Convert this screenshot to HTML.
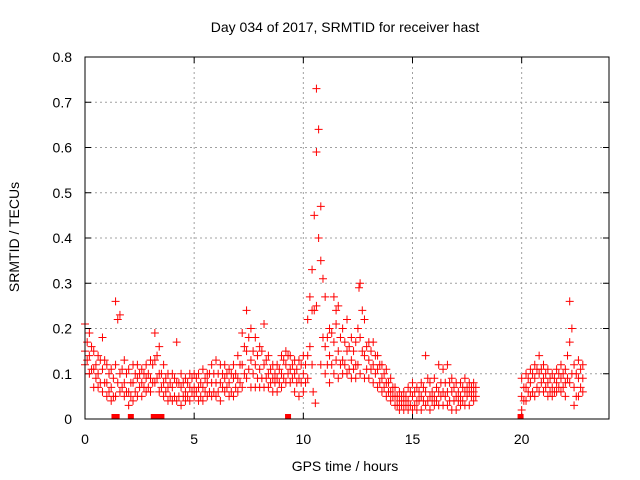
<!DOCTYPE html>
<html><head><meta charset="utf-8"><style>
body{margin:0;background:#fff;}
svg{display:block;font-family:"Liberation Sans",sans-serif;}
</style></head><body>
<svg id="chart" width="640" height="480" xmlns="http://www.w3.org/2000/svg">
<text x="345" y="32" font-size="14" text-anchor="middle">Day 034 of 2017, SRMTID for receiver hast</text>
<text x="345" y="471" font-size="14" text-anchor="middle">GPS time / hours</text>
<text transform="translate(19,237) rotate(-90)" font-size="14" text-anchor="middle">SRMTID / TECUs</text>
<g id="grid"></g><g id="ticks"></g><g id="marks"></g>
<rect x="85" y="57" width="524" height="362" fill="none" stroke="#000" stroke-width="1"/>
</svg>
<script>
const times = [0,0.2,0.4,0.6,0.8,1.0,1.2,1.4,1.6,1.8,2.0,2.2,2.4,2.6,2.8,3.0,3.2,3.4,3.6,3.8,4.0,4.2,4.4,4.6,4.8,5.0,5.2,5.4,5.6,5.8,6.0,6.2,6.4,6.6,6.8,7.0,7.2,7.4,7.6,7.8,8.0,8.2,8.4,8.6,8.8,9.0,9.2,9.4,9.6,9.8,10.0,10.2,10.4,10.6,10.8,11.0,11.2,11.4,11.6,11.8,12.0,12.2,12.4,12.6,12.8,13.0,13.2,13.4,13.6,13.8,14.0,14.2,14.4,14.6,14.8,15.0,15.2,15.4,15.6,15.8,16.0,16.2,16.4,16.6,16.8,17.0,17.2,17.4,17.6,17.8,18.0,18.2,18.4,18.6,18.8,19.0,19.2,19.4,19.6,19.8,20.0,20.2,20.4,20.6,20.8,21.0,21.2,21.4,21.6,21.8,22.0,22.2,22.4,22.6,22.8];
const hiVals = [.21,.19,.15,.14,.18,.12,.11,.26,.23,.13,.11,.12,.12,.11,.12,.13,.19,.16,.12,.10,.10,.17,.10,.09,.10,.10,.10,.11,.10,.12,.13,.12,.12,.11,.12,.14,.19,.24,.20,.18,.16,.21,.14,.12,.12,.14,.15,.14,.13,.13,.14,.22,.33,.73,.47,.27,.20,.27,.25,.20,.22,.18,.17,.30,.22,.17,.17,.14,.12,.11,.09,.07,.06,.06,.07,.08,.07,.08,.14,.08,.09,.12,.11,.12,.09,.08,.08,.09,.08,.08,null,null,null,null,null,null,null,null,null,null,.09,.10,.11,.12,.14,.12,.11,.10,.11,.12,.11,.26,.12,.13,.12];
const midVals = [.15,.14,.11,.10,.11,.08,.07,.12,.10,.08,.06,.08,.09,.08,.09,.09,.13,.10,.08,.07,.07,.08,.07,.06,.07,.07,.07,.07,.08,.08,.08,.08,.09,.08,.09,.09,.12,.15,.13,.12,.11,.12,.10,.09,.09,.10,.12,.11,.10,.09,.10,.14,.24,.59,.35,.16,.14,.17,.15,.13,.15,.13,.12,.18,.14,.13,.12,.11,.09,.08,.06,.05,.04,.04,.04,.05,.04,.05,.06,.05,.05,.06,.06,.06,.06,.05,.05,.06,.06,.06,null,null,null,null,null,null,null,null,null,null,.05,.07,.08,.09,.10,.09,.08,.07,.08,.09,.08,.17,.07,.09,.09];
const loVals = [.12,.10,.07,.07,.06,.05,.04,.05,.06,.05,.03,.04,.05,.05,.06,.06,.08,.06,.05,.04,.04,.04,.03,.04,.04,.05,.04,.04,.05,.05,.05,.04,.06,.05,.05,.06,.07,.09,.07,.07,.07,.07,.07,.06,.06,.07,.08,.08,.06,.05,.06,.09,.12,.25,.12,.10,.08,.10,.09,.10,.10,.09,.09,.10,.09,.09,.08,.07,.06,.05,.04,.03,.02,.02,.02,.02,.02,.02,.03,.02,.03,.03,.03,.03,.02,.02,.03,.03,.03,.04,null,null,null,null,null,null,null,null,null,null,.02,.04,.05,.05,.06,.06,.05,.05,.06,.06,.05,.08,.03,.05,.06];
const halfTimes = [0.1,0.3,0.5,0.7,0.9,1.1,1.3,1.5,1.7,1.9,2.1,2.3,2.5,2.7,2.9,3.1,3.3,3.5,3.7,3.9,4.1,4.3,4.5,4.7,4.9,5.1,5.3,5.5,5.7,5.9,6.1,6.3,6.5,6.7,6.9,7.1,7.3,7.5,7.7,7.9,8.1,8.3,8.5,8.7,8.9,9.1,9.3,9.5,9.7,9.9,10.1,10.3,10.5,10.7,10.9,11.1,11.3,11.5,11.7,11.9,12.1,12.3,12.5,12.7,12.9,13.1,13.3,13.5,13.7,13.9,14.1,14.3,14.5,14.7,14.9,15.1,15.3,15.5,15.7,15.9,16.1,16.3,16.5,16.7,16.9,17.1,17.3,17.5,17.7,17.9,18.1,18.3,18.5,18.7,18.9,19.1,19.3,19.5,19.7,19.9,20.1,20.3,20.5,20.7,20.9,21.1,21.3,21.5,21.7,21.9,22.1,22.3,22.5,22.7,22.9];
const upVals = [.17,.16,.12,.13,.13,.10,.09,.22,.11,.10,.08,.10,.10,.10,.10,.12,.14,.10,.09,.08,.09,.08,.08,.08,.09,.09,.08,.09,.10,.10,.10,.10,.10,.10,.10,.12,.16,.18,.15,.14,.15,.13,.11,.10,.11,.13,.14,.12,.11,.12,.12,.27,.45,.64,.31,.18,.19,.21,.18,.17,.16,.15,.20,.24,.16,.15,.14,.12,.10,.08,.07,.05,.05,.05,.06,.06,.06,.07,.09,.06,.07,.08,.08,.08,.07,.06,.07,.07,.07,.07,null,null,null,null,null,null,null,null,null,null,.07,.09,.10,.11,.11,.10,.09,.09,.10,.10,.14,.20,.10,.11,null];
const downVals = [.13,.11,.09,.08,.08,.06,.05,.08,.07,.06,.05,.06,.07,.07,.07,.08,.09,.07,.06,.05,.05,.05,.05,.05,.06,.06,.05,.06,.06,.06,.06,.07,.07,.06,.07,.08,.10,.11,.10,.09,.09,.09,.08,.08,.08,.09,.10,.09,.08,.08,.08,.16,.24,.40,.18,.12,.12,.13,.12,.12,.11,.11,.12,.15,.11,.11,.10,.08,.07,.06,.05,.03,.03,.03,.03,.03,.04,.04,.04,.04,.04,.05,.05,.04,.04,.04,.04,.05,.05,.05,null,null,null,null,null,null,null,null,null,null,.04,.06,.06,.07,.08,.07,.06,.06,.07,.07,.09,.10,.05,.07,null];
const outlierTimes = [10.55,10.45,11.5,12.55];
const outlierVals = [0.035,0.06,0.24,0.29];
const zeroTimes = [1.35,1.45,2.1,3.15,3.25,3.5,9.3,19.95];
const xTicks = [0,5,10,15,20];
const yTicks = [0,0.1,0.2,0.3,0.4,0.5,0.6,0.7,0.8];
const yTickLabels = ["0","0.1","0.2","0.3","0.4","0.5","0.6","0.7","0.8"];

const NS="http://www.w3.org/2000/svg";
const X0=85,X1=609,Y0=419,Y1=57;
function xs(t){return X0+(t/24)*(X1-X0);}
function ys(v){return Y0-(v/0.8)*(Y0-Y1);}
function mk(tag,attrs,parent){const e=document.createElementNS(NS,tag);for(const k in attrs)e.setAttribute(k,attrs[k]);parent.appendChild(e);return e;}
const grid=document.getElementById('grid'),ticks=document.getElementById('ticks'),marks=document.getElementById('marks');
xTicks.forEach(t=>{
  const x=xs(t);
  if(t>0){const g=mk('line',{x1:x,x2:x,y1:Y1,y2:Y0,stroke:'#a0a0a0','stroke-dasharray':'2,3'},grid);
  
  }
  mk('line',{x1:x,x2:x,y1:Y0,y2:Y0-6,stroke:'#000'},ticks);
  mk('line',{x1:x,x2:x,y1:Y1,y2:Y1+6,stroke:'#000'},ticks);
  const l=mk('text',{x:x,y:444,'font-size':14,'text-anchor':'middle'},ticks);
  l.textContent=String(t);
  
  
});
yTicks.forEach((v,i)=>{
  const y=ys(v);
  if(v>0&&v<0.8){const g=mk('line',{x1:X0,x2:X1,y1:y,y2:y,stroke:'#a0a0a0','stroke-dasharray':'2,3'},grid);
  
  }
  mk('line',{x1:X0,x2:X0+6,y1:y,y2:y,stroke:'#000'},ticks);
  mk('line',{x1:X1,x2:X1-6,y1:y,y2:y,stroke:'#000'},ticks);
  const l=mk('text',{x:72,y:y+5,'font-size':14,'text-anchor':'end'},ticks);
  l.textContent=yTickLabels[i];
  
  
});
function plus(t,v,color){
  const x=xs(t),y=ys(v);
  const p=mk('path',{d:`M${x-4} ${y}H${x+4}M${x} ${y-4}V${y+4}`,stroke:color,'stroke-width':1,fill:'none'},marks);
  
  
}
[hiVals,midVals,loVals].forEach(arr=>{
  times.forEach((t,i)=>{ if(arr[i]!=null) plus(t,arr[i],'#ff0000'); });
});
[upVals,downVals].forEach(arr=>{
  halfTimes.forEach((t,i)=>{ if(arr[i]!=null) plus(t,arr[i],'#ff0000'); });
});
outlierTimes.forEach((t,i)=>plus(t,outlierVals[i],'#ff0000'));
zeroTimes.forEach(t=>{
  const r=mk('rect',{x:xs(t)-3,y:Y0-5,width:6,height:5,fill:'#ff0000'},marks);
  
  
});
</script>
</body></html>
